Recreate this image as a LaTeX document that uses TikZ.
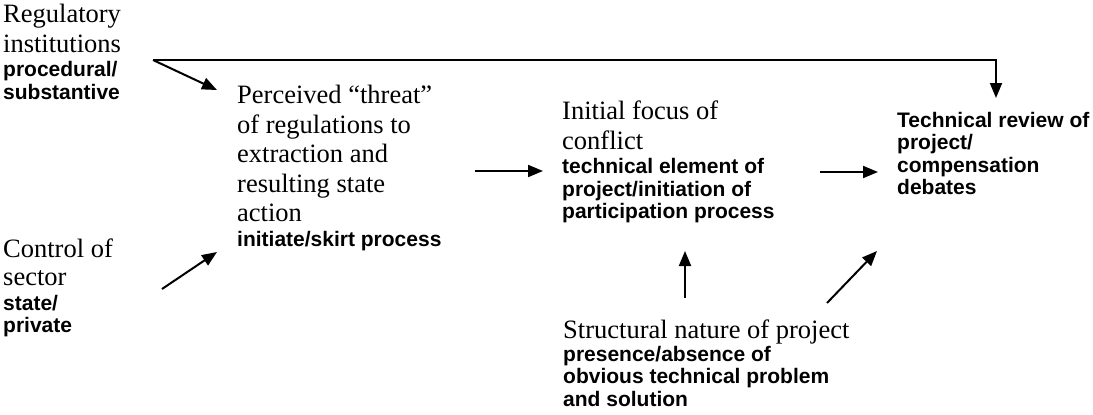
\documentclass[tikz,border=0pt]{standalone}
\usepackage{fontspec}
\setmainfont{Liberation Serif}
\newfontfamily\bsansfam{Liberation Sans}
\usetikzlibrary{arrows.meta}
\newcommand\myser{\rmfamily\fontsize{26.5}{29.5}\selectfont\spaceskip=0pt\xspaceskip=0pt\relax}
\newcommand\mybs{\bsansfam\bfseries\fontsize{21}{22.5}\selectfont\spaceskip=0pt\xspaceskip=0pt\relax}
\newcommand\gapb{\vspace{2pt}}
\tikzset{
  txt/.style={anchor=north west, inner sep=0pt, text width=360pt, align=flush left},
  arr/.style={line width=2pt, -{Triangle[length=15pt,width=12pt]}}
}
\begin{document}
\begin{tikzpicture}[x=1pt,y=-1pt]
\useasboundingbox (0,0) rectangle (1093,415);
\node[txt] (reg) at (3,4) {\myser Regulatory\\institutions\par\gapb\mybs procedural/\\substantive\par};
\node[txt] (ctrl) at (3,239) {\myser Control of\\[-1.5pt]sector\par\gapb\mybs state/\\private\par};
\node[txt] (threat) at (237,85) {\myser Perceived “threat”\\of regulations to\\extraction and\\resulting state\\action\par\gapb\mybs initiate/skirt process\par};
\node[txt] (focus) at (562,101) {\myser Initial focus of\\conflict\par\gapb\mybs technical element of\\project/initiation of\\participation process\par};
\node[txt] (review) at (897,112) {\mybs Technical review of\\project/\\compensation\\debates\par};
\node[txt] (struct) at (563,320) {\myser Structural nature of project\par\mybs presence/absence of\\obvious technical problem\\and solution\par};
% connector end points
\coordinate (r0) at (153,60);
\coordinate (r1) at (217,90);
\coordinate (rc) at (996,60);
\coordinate (r2) at (996,98);
\coordinate (c0) at (162,289);
\coordinate (c1) at (217,252);
\coordinate (t0) at (475,171);
\coordinate (t1) at (543,171);
\coordinate (f0) at (820,172);
\coordinate (f1) at (878,172);
\coordinate (s0) at (685,298);
\coordinate (s1) at (685,251);
\coordinate (s2) at (827,303);
\coordinate (s3) at (877,251);
\draw[arr] (r0) -- (r1);
\draw[arr] (r0) -- (rc) -- (r2);
\draw[arr] (c0) -- (c1);
\draw[arr] (t0) -- (t1);
\draw[arr] (f0) -- (f1);
\draw[arr] (s0) -- (s1);
\draw[arr] (s2) -- (s3);
\end{tikzpicture}
\end{document}
